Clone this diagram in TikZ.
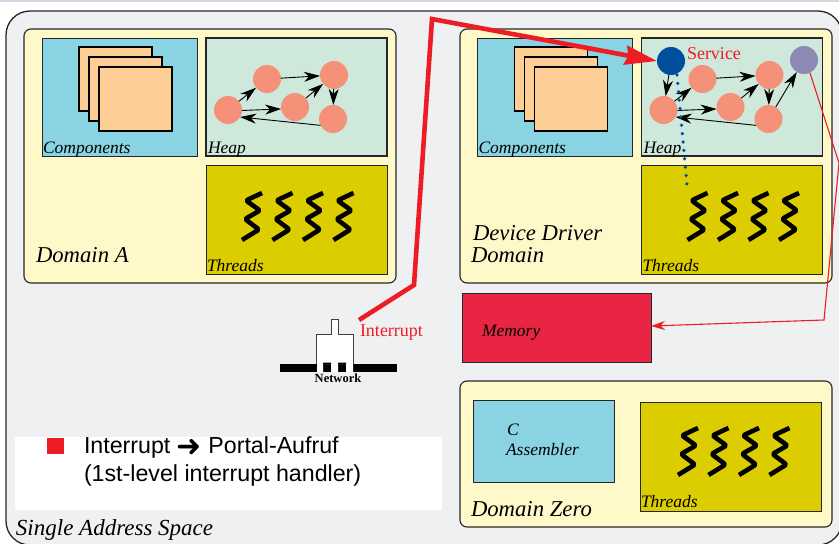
\documentclass[tikz,border=0pt]{standalone}
\usepackage{fontspec}
\setmainfont{Liberation Serif}
\newfontfamily\legendfont{Liberation Sans}
\newfontfamily\symfont{DejaVu Sans}
\usetikzlibrary{arrows.meta}
\definecolor{spaceBg}{HTML}{EFF0F2}
\definecolor{domainBg}{HTML}{FFF8C9}
\definecolor{compBg}{HTML}{89D3E3}
\definecolor{heapBg}{HTML}{CFE8DC}
\definecolor{threadBg}{HTML}{DCCD00}
\definecolor{sheetBg}{HTML}{FDCF94}
\definecolor{objBg}{HTML}{F59079}
\definecolor{serviceBlue}{HTML}{004F9C}
\definecolor{purpleObj}{HTML}{8E88B4}
\definecolor{irqRed}{HTML}{EE1C25}
\definecolor{memRed}{HTML}{E82644}
\definecolor{stripBg}{HTML}{D5D6E4}
\tikzset{
  every node/.style={outer sep=0pt},
  domainbox/.style={draw=black!85,fill=domainBg,line width=1.1pt,rounded corners=7pt},
  compbox/.style={draw=black!85,fill=compBg,line width=0.9pt},
  heapbox/.style={draw=black!85,fill=heapBg,line width=1.3pt},
  threadbox/.style={draw=black!85,fill=threadBg,line width=1pt},
  sheet/.style={draw=black,fill=sheetBg,line width=1.1pt},
  obj/.style={circle,fill=objBg,minimum size=28pt,inner sep=0pt},
  objarrow/.style={draw=black,line width=0.9pt,-{Stealth[length=16pt,width=10pt,inset=5pt]}},
  squig/.style={draw=black,line width=4.6pt,line join=round,rounded corners=2pt},
  boxlabel/.style={font=\fontsize{17.5}{17.5}\selectfont\itshape,anchor=base west,inner sep=0pt},
  biglabel/.style={font=\fontsize{22.7}{23}\selectfont\itshape,anchor=base west,inner sep=0pt,align=left},
  redlabel/.style={font=\fontsize{18}{18}\selectfont,text=irqRed,anchor=base west,inner sep=0pt},
}
\newcommand{\squiggles}[2]{%
  \foreach \k in {0,1,2,3}{
    \draw[squig,shift={(#1+\k*30.5,#2)}] (0,0) -- (-16,7.5) -- (-2,17.5) -- (-17,26) -- (-3,36.5) -- (-20,47);
  }}
\newcommand{\domainparts}[1]{%
  \node[compbox,minimum width=155pt,minimum height=118pt,inner sep=0pt,anchor=north west] (comp) at (42,38) {};
  \node[sheet,minimum width=73pt,minimum height=64pt,inner sep=0pt,anchor=north west] (sheetA) at (79,47) {};
  \node[sheet,minimum width=73pt,minimum height=64pt,inner sep=0pt,anchor=north west] (sheetB) at (89,57) {};
  \node[sheet,minimum width=73pt,minimum height=64pt,inner sep=0pt,anchor=north west] (sheetC) at (99,67) {};
  \node[boxlabel] (compL) at (43,153) {Components};
  \node[heapbox,minimum width=181pt,minimum height=118pt,inner sep=0pt,anchor=north west] (heap) at (206,38) {};
  \node[boxlabel] (heapL) at (208,153) {Heap};
  \node[threadbox,minimum width=181pt,minimum height=109pt,inner sep=0pt,anchor=north west] (thr) at (206,165) {};
  \node[boxlabel] (thrL) at (207,271) {Threads};
  \squiggles{#1}{193}
  \node[obj] (a) at (228,110) {};
  \node[obj] (b) at (267,79) {};
  \node[obj] (c) at (334,75) {};
  \node[obj] (d) at (295,107) {};
  \node[obj] (e) at (333,119) {};
  \draw[objarrow] (a) -- (b);
  \draw[objarrow] (b) -- (c);
  \draw[objarrow] (c) -- (e);
  \draw[objarrow] (a.358) -- (d.188);
  \draw[objarrow] (d) -- (c);
  \draw[objarrow] (e.207) -- (a.330);
}
\begin{document}
\begin{tikzpicture}[x=1pt,y=-1pt]
\useasboundingbox (0,0) rectangle (839,544);
\fill[white] (0,0) rectangle (839,544);
\fill[stripBg] (0,0) rectangle (839,2);
\begin{scope}
\clip (0,0) rectangle (839,544);
\node[draw=black!85,fill=spaceBg,line width=1.3pt,rounded corners=24pt,minimum width=836pt,minimum height=534pt,inner sep=0pt,anchor=north west] (space) at (6,11) {};
\end{scope}
% Domain A
\node[domainbox,minimum width=372pt,minimum height=254pt,inner sep=0pt,anchor=north west] (domA) at (24,29) {};
\begin{scope}[name prefix=A]
\domainparts{262}
\end{scope}
\node[biglabel] (domAL) at (36,262) {Domain A};
% Device driver domain
\node[domainbox,minimum width=372pt,minimum height=254pt,inner sep=0pt,anchor=north west] (domD) at (460,29) {};
\begin{scope}[name prefix=D,shift={(435.5,0)}]
\domainparts{272}
\node[circle,fill=serviceBlue,minimum size=28pt,inner sep=0pt] (service) at (235.5,61) {};
\node[circle,fill=purpleObj,minimum size=28pt,inner sep=0pt] (purple) at (368.5,60) {};
\draw[objarrow] (service) -- (a);
\draw[objarrow] (e) -- (purple);
\coordinate (dotend) at (251.5,185);
\draw[serviceBlue,line width=3.6pt,line cap=round,dash pattern=on 0.01pt off 8.4pt] (service.south) ++(6,0) -- (dotend);
\node[redlabel] (serviceL) at (251.5,59) {Service};
\end{scope}
\node[biglabel] (domDL) at (473,240) {Device Driver};
\node[biglabel] (domDL2) at (471,262) {Domain};
% Memory
\node[draw=black!85,fill=memRed,line width=0.8pt,minimum width=189pt,minimum height=69pt,inner sep=0pt,anchor=north west] (mem) at (462,293) {};
\node[boxlabel] (memL) at (482,336) {Memory};
% Domain Zero
\node[domainbox,minimum width=372pt,minimum height=146pt,inner sep=0pt,anchor=north west] (domZ) at (460,381) {};
\node[compbox,minimum width=141pt,minimum height=82pt,inner sep=0pt,anchor=north west] (asm) at (473,400) {};
\node[boxlabel] (asmC) at (507,435) {C};
\node[boxlabel] (asmL) at (506,455) {Assembler};
\node[threadbox,minimum width=181pt,minimum height=109pt,inner sep=0pt,anchor=north west] (zthr) at (640,402) {};
\node[boxlabel] (zthrL) at (641,507) {Threads};
\squiggles{698}{428}
\node[biglabel] (domZL) at (471,516) {Domain Zero};
% Network device
\node[fill=black,minimum width=117pt,minimum height=8pt,inner sep=0pt,anchor=north west] (bar) at (280,364) {};
\draw[draw=black!75,fill=white,line width=0.9pt] (316.5,364) -- (316.5,334) -- (331,334) -- (331,319.5) -- (338,319.5) -- (338,334) -- (353,334) -- (353,364);
\fill[white] (317,364) rectangle (323,372) (331,364) rectangle (338,372) (346,364) rectangle (353,372);
\fill[black] (323,362.5) rectangle (331,364) (338,362.5) rectangle (346,364);
\node[font=\fontsize{12.5}{13}\selectfont\bfseries,inner sep=0pt] (netL) at (338,378) {Network};
\node[redlabel] (intL) at (360,336) {Interrupt};
% Red connectors
\coordinate (irqStart) at (359,320);
\coordinate (irqA) at (414,285);
\coordinate (irqB) at (432,19);
\draw[irqRed,line width=4.6pt,miter limit=8,-{Stealth[length=32pt,width=19pt,inset=3pt]}] (irqStart) -- (irqA) -- (irqB) -- (Dservice.west);
\coordinate (edgeA) at (839,163);
\coordinate (edgeB) at (824,320);
\begin{scope}
\clip (0,0) rectangle (839,544);
\draw[irqRed,line width=1.1pt,-{Stealth[length=14pt,width=9pt]}] (Dpurple.-65) -- (edgeA) -- (edgeB) -- (mem.east |- 0,326);
\end{scope}
% Legend
\node[fill=white,minimum width=427pt,minimum height=73pt,inner sep=0pt,anchor=north west] (legend) at (15,437) {};
\node[fill=irqRed,minimum width=17pt,minimum height=16pt,inner sep=0pt,anchor=north west] (bullet) at (47,438) {};
\node[font=\fontsize{23.2}{28}\selectfont\legendfont,anchor=base west,inner sep=0pt,align=left] (legL) at (84,453) {Interrupt {\symfont\fontsize{30}{20}\selectfont\raisebox{-3pt}{➜}} Portal-Aufruf};
\node[font=\fontsize{23.2}{28}\selectfont\legendfont,anchor=base west,inner sep=0pt,align=left] (legL2) at (84,481) {(1st-level interrupt handler)};
\node[font=\fontsize{23}{23}\selectfont\itshape,anchor=base west,inner sep=0pt] (spaceL) at (16,535) {Single Address Space};
\end{tikzpicture}
\end{document}
